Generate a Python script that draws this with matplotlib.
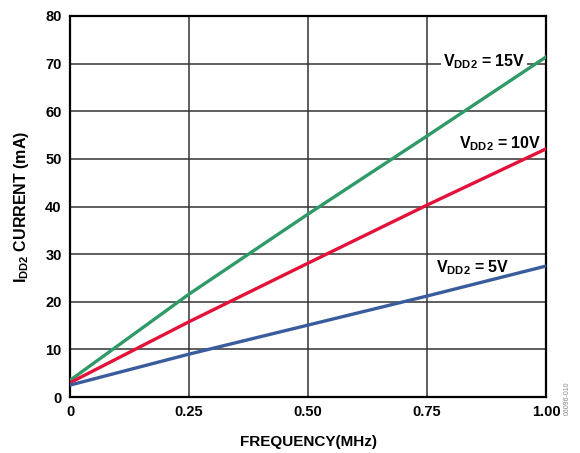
import matplotlib
matplotlib.use('Agg')
import matplotlib.pyplot as plt

plt.rcParams['font.family'] = 'Liberation Sans'
plt.rcParams['mathtext.fontset'] = 'custom'
plt.rcParams['mathtext.rm'] = 'Liberation Sans:bold'
plt.rcParams['mathtext.bf'] = 'Liberation Sans:bold'
plt.rcParams['mathtext.it'] = 'Liberation Sans:bold'
plt.rcParams['mathtext.default'] = 'rm'

FREQ = [0.0, 0.25, 0.50, 0.75, 1.00]
I_15V = [3.5, 21.6, 38.4, 54.8, 71.4]
I_10V = [3.0, 15.8, 28.1, 40.3, 52.1]
I_5V = [2.5, 9.0, 15.1, 21.2, 27.5]

XTICKS = [0, 0.25, 0.50, 0.75, 1.00]
XTICKLABELS = ['0', '0.25', '0.50', '0.75', '1.00']
YTICKS = [0, 10, 20, 30, 40, 50, 60, 70, 80]

GREEN = '#2f9a68'
RED = '#e2123a'
BLUE = '#3a5c9c'
GRID = '#333333'

fig = plt.figure(figsize=(5.8, 4.53), dpi=100)
ax = fig.add_axes([0.1207, 0.1236, 0.8207, 0.8411])

ax.plot(FREQ, I_15V, color=GREEN, linewidth=2.4, zorder=3)
ax.plot(FREQ, I_10V, color=RED, linewidth=2.4, zorder=3)
ax.plot(FREQ, I_5V, color=BLUE, linewidth=2.4, zorder=3)

ax.set_xlim(0, 1.0)
ax.set_ylim(0, 80)
ax.set_xticks(XTICKS)
ax.set_xticklabels(XTICKLABELS)
ax.set_yticks(YTICKS)
ax.grid(True, color=GRID, linewidth=1.1)
ax.set_axisbelow(True)
for s in ax.spines.values():
    s.set_linewidth(1.6)
    s.set_color('black')
ax.tick_params(length=0, labelsize=10.5, pad=6)
for lbl in ax.get_xticklabels() + ax.get_yticklabels():
    lbl.set_fontweight('bold')

ax.set_xlabel('FREQUENCY(MHz)', fontsize=11, fontweight='bold', labelpad=11)
ax.set_ylabel(r'I$_{DD2}$ CURRENT (mA)', fontsize=11.5, fontweight='bold', labelpad=10)

ax.text(0.956, 70.4, r'V$_{DD2}$ = 15V', fontsize=11.5, fontweight='bold',
        ha='right', va='center', zorder=2.5,
        bbox=dict(facecolor='white', edgecolor='none', pad=1))
ax.text(0.99, 53.2, r'V$_{DD2}$ = 10V', fontsize=11.5, fontweight='bold',
        ha='right', va='center', zorder=4)
ax.text(0.924, 27.2, r'V$_{DD2}$ = 5V', fontsize=11.5, fontweight='bold',
        ha='right', va='center', zorder=4)

fig.text(0.978, 0.12, '06096-010', rotation=90, fontsize=5, color='#888888',
         ha='center', va='center')

fig.savefig('out.png', dpi=100, facecolor='white')
